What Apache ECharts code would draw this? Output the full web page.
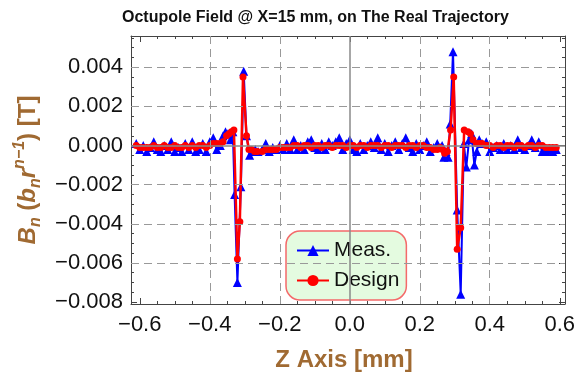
<!DOCTYPE html>
<html>
<head>
<meta charset="utf-8">
<script src="https://cdn.jsdelivr.net/npm/echarts@6/dist/echarts.min.js"></script>
<style>
  html, body { margin: 0; padding: 0; background: #fff; }
  #chart { width: 578px; height: 373px; }
</style>
</head>
<body>
<div id="chart"></div>
<script>
// measured field, z positions [mm]
var zMeas = [
  -0.61, -0.60, -0.59, -0.58, -0.57, -0.56, -0.55, -0.54, -0.53, -0.52, -0.51, -0.50, -0.49,
  -0.48, -0.47, -0.46, -0.45, -0.44, -0.43, -0.42, -0.41, -0.40, -0.39, -0.38, -0.37,
  -0.362, -0.355, -0.348, -0.341, -0.334, -0.329, -0.321, -0.311, -0.303, -0.295, -0.286, -0.278, -0.270, -0.262,
  -0.25, -0.24, -0.23, -0.22, -0.21, -0.20, -0.19, -0.18, -0.17, -0.16, -0.15, -0.14, -0.13,
  -0.12, -0.11, -0.10, -0.09, -0.08, -0.07, -0.06, -0.05, -0.04, -0.03, -0.02, -0.01, 0.00,
  0.01, 0.02, 0.03, 0.04, 0.05, 0.06, 0.07, 0.08, 0.09, 0.10, 0.11, 0.12, 0.13,
  0.14, 0.15, 0.16, 0.17, 0.18, 0.19, 0.20, 0.21, 0.22, 0.23, 0.24, 0.25,
  0.258, 0.264, 0.269, 0.275, 0.281, 0.287, 0.295, 0.307, 0.317, 0.326, 0.333, 0.341, 0.348, 0.356, 0.363, 0.370, 0.378,
  0.39, 0.40, 0.41, 0.42, 0.43, 0.44, 0.45, 0.46, 0.47, 0.48, 0.49, 0.50, 0.51,
  0.52, 0.53, 0.54, 0.55, 0.56, 0.57, 0.58, 0.59
]
var meas = [
  0.0001, -0.0002, 0.0000, -0.0003, -0.0001, 0.0002, -0.0002, -0.0003, 0.0000, -0.0002, 0.0002, -0.0003, -0.0001,
  -0.0003, 0.0001, -0.0002, 0.0002, -0.0003, -0.0002, 0.0001, -0.0003, 0.0002, 0.0004, -0.0002, 0.0000,
  0.0005, 0.0007, 0.0006, 0.0003, 0.0007, -0.0025, -0.0070, -0.0021, 0.0038, 0.0005, -0.0005, -0.0003, -0.0002, -0.0003,
  -0.0002, 0.0001, -0.0003, -0.0001, -0.0002, 0.0000, -0.0002, 0.0001, -0.0002, 0.0003, -0.0002, 0.0000, -0.0002,
  0.0002, 0.0003, -0.0001, -0.0002, 0.0001, -0.0002, 0.0002, 0.0000, 0.0002, 0.0004, -0.0002, 0.0001, 0.0003,
  -0.0002, -0.0003, 0.0001, -0.0002, 0.0000, 0.0002, -0.0001, 0.0004, -0.0002, 0.0001, -0.0003, 0.0000, 0.0002,
  -0.0002, 0.0001, 0.0004, -0.0001, -0.0003, 0.0001, -0.0002, 0.0000, 0.0002, -0.0003, -0.0001, 0.0001,
  -0.0001, 0.0000, -0.0006, -0.0003, -0.0006, 0.0011, 0.0048, -0.0033, -0.0076, 0.0001, -0.0011, 0.0003, 0.0006, -0.0010, -0.0003, 0.0003, 0.0001,
  0.0002, -0.0003, -0.0001, 0.0000, -0.0002, 0.0001, -0.0002, 0.0000, -0.0002, 0.0003, -0.0001, -0.0002, 0.0000,
  0.0003, -0.0001, 0.0002, -0.0003, -0.0003, -0.0002, -0.0003, -0.0002
]

// design field
var zDesign = [
  -0.61, -0.60, -0.59, -0.58, -0.57, -0.56, -0.55, -0.54, -0.53, -0.52, -0.51, -0.50, -0.49,
  -0.48, -0.47, -0.46, -0.45, -0.44, -0.43, -0.42, -0.41, -0.40, -0.39, -0.38, -0.37,
  -0.362, -0.352, -0.345, -0.338, -0.331, -0.321, -0.314, -0.305, -0.295, -0.288, -0.281, -0.272, -0.264,
  -0.25, -0.24, -0.23, -0.22, -0.21, -0.20, -0.19, -0.18, -0.17, -0.16, -0.15, -0.14, -0.13,
  -0.12, -0.11, -0.10, -0.09, -0.08, -0.07, -0.06, -0.05, -0.04, -0.03, -0.02, -0.01, 0.00,
  0.01, 0.02, 0.03, 0.04, 0.05, 0.06, 0.07, 0.08, 0.09, 0.10, 0.11, 0.12, 0.13,
  0.14, 0.15, 0.16, 0.17, 0.18, 0.19, 0.20, 0.21, 0.22, 0.23, 0.24, 0.25,
  0.258, 0.265, 0.271, 0.279, 0.288, 0.297, 0.307, 0.317, 0.327, 0.338, 0.345, 0.352, 0.362, 0.370, 0.378,
  0.39, 0.40, 0.41, 0.42, 0.43, 0.44, 0.45, 0.46, 0.47, 0.48, 0.49, 0.50, 0.51,
  0.52, 0.53, 0.54, 0.55, 0.56, 0.57, 0.58, 0.59
]
var design = [
  0.0000, -0.0001, -0.0001, -0.0001, -0.0001, 0.0000, -0.0001, -0.0001, 0.0000, -0.0001, -0.0001, 0.0000, -0.0001,
  -0.0001, 0.0000, -0.0001, 0.0000, -0.0001, 0.0000, 0.0000, -0.0001, 0.0000, 0.0001, 0.0001, 0.0001,
  0.0002, 0.0005, 0.0006, 0.0007, 0.0008, -0.0058, -0.0039, 0.0035, 0.0005, -0.0002, -0.0002, -0.0003, -0.0003,
  -0.0003, -0.0002, -0.0002, -0.0002, -0.0002, -0.0001, -0.0001, -0.0001, -0.0001, 0.0000, 0.0000, -0.0001, 0.0000,
  0.0000, -0.0001, 0.0000, 0.0000, -0.0001, 0.0000, 0.0000, -0.0001, 0.0000, 0.0000, 0.0000, -0.0001, 0.0000,
  0.0000, -0.0001, 0.0000, 0.0000, -0.0001, 0.0000, 0.0000, 0.0000, -0.0001, 0.0000, 0.0000, -0.0001, 0.0000,
  0.0000, 0.0000, -0.0001, 0.0000, 0.0000, -0.0001, 0.0000, 0.0000, -0.0001, -0.0001, -0.0002, -0.0002,
  -0.0001, -0.0002, -0.0004, -0.0003, 0.0008, 0.0035, -0.0053, -0.0042, 0.0008, 0.0007, 0.0006, 0.0003, 0.0001, 0.0001, 0.0001,
  0.0000, 0.0000, -0.0001, 0.0000, 0.0000, -0.0001, 0.0000, 0.0000, -0.0001, 0.0000, 0.0000, -0.0001, 0.0000,
  0.0000, -0.0001, 0.0000, 0.0000, -0.0001, -0.0001, -0.0001, -0.0001
]

// axis ranges and dashed grid positions
var xRange = [-0.625, 0.615]
var yRange = [-0.0081, 0.0056]
var gridX = [-0.4, -0.2, 0.2, 0.4]
var gridY = [0.004, 0.002, -0.002, -0.004, -0.006]

var brown = '#a06a32'
var font = 'Liberation Sans'

function minus(s) { return s.replace('-', '\u2212') }

var chart = echarts.init(document.getElementById('chart'))

var frameAxis = {
  axisLine: { show: true, onZero: false, lineStyle: { color: '#444', width: 1 } },
  axisTick: { show: true, inside: true, length: 6, lineStyle: { color: '#444' } },
  minorTick: { show: true, splitNumber: 4, length: 3, lineStyle: { color: '#444' } },
  splitLine: { show: false }
}

var gridLines = gridX.map(function (v) { return { xAxis: v } })
  .concat(gridY.map(function (v) { return { yAxis: v } }))

var option = {
  animation: false,
  title: {
    text: 'Octupole Field @ X=15 mm, on The Real Trajectory',
    left: 117,
    top: 5,
    textStyle: { fontFamily: font, fontSize: 16, fontWeight: 'bold', color: '#111' }
  },
  grid: { left: 131, right: 13, top: 36, bottom: 69, containLabel: false, outerBoundsMode: 'none' },
  legend: {
    data: ['Meas.', 'Design'],
    orient: 'vertical',
    left: 286,
    top: 231,
    itemWidth: 32,
    itemHeight: 14,
    itemGap: 9,
    padding: [9, 7, 9, 10],
    backgroundColor: '#e4fbe0',
    borderColor: '#f46a6a',
    borderWidth: 1.5,
    borderRadius: 14,
    textStyle: { fontFamily: font, fontSize: 21, lineHeight: 21, color: '#111' }
  },
  xAxis: [
    Object.assign({}, frameAxis, {
      type: 'value', position: 'bottom',
      min: xRange[0], max: xRange[1], splitNumber: 6,
      axisLabel: {
        showMinLabel: false, showMaxLabel: false, margin: 10,
        fontFamily: font, fontSize: 22, color: '#111',
        formatter: function (v) { return minus(v.toFixed(1)) }
      },
      name: 'Z Axis [mm]',
      nameLocation: 'middle',
      nameGap: 44,
      nameTextStyle: { fontFamily: font, fontSize: 24, fontWeight: 'bold', color: brown, padding: [0, 8, 0, 0] }
    }),
    Object.assign({}, frameAxis, {
      type: 'value', position: 'top',
      min: xRange[0], max: xRange[1], splitNumber: 6,
      axisLabel: { show: false }
    })
  ],
  yAxis: [
    Object.assign({}, frameAxis, {
      type: 'value', position: 'left',
      min: yRange[0], max: yRange[1], splitNumber: 7,
      axisLabel: {
        showMinLabel: false, showMaxLabel: false, margin: 8,
        fontFamily: font, fontSize: 22, color: '#111',
        formatter: function (v) { return minus(v.toFixed(3)) }
      },
      name: '{i|B}{sub|n} {n|(}{i|b}{sub|n}{i|r}{sup|n\u22121}{n|) [T]}',
      nameLocation: 'middle',
      nameRotate: 90,
      nameGap: 87,
      nameTextStyle: {
        fontFamily: font, fontSize: 24, fontWeight: 'bold', color: brown,
        rich: {
          i: { fontFamily: font, fontSize: 24, fontWeight: 'bold', fontStyle: 'italic', color: brown, lineHeight: 32, verticalAlign: 'middle' },
          n: { fontFamily: font, fontSize: 24, fontWeight: 'bold', color: brown, lineHeight: 32, verticalAlign: 'middle' },
          sub: { fontFamily: font, fontSize: 16, fontWeight: 'bold', fontStyle: 'italic', color: brown, verticalAlign: 'bottom' },
          sup: { fontFamily: font, fontSize: 16, fontWeight: 'bold', fontStyle: 'italic', color: brown, verticalAlign: 'top' }
        }
      }
    }),
    Object.assign({}, frameAxis, {
      type: 'value', position: 'right',
      min: yRange[0], max: yRange[1], splitNumber: 7,
      axisLabel: { show: false }
    })
  ],
  series: [
    {
      // dashed grid, under the data
      type: 'line',
      data: [],
      z: 1,
      silent: true,
      markLine: {
        silent: true,
        precision: 6,
        symbol: 'none',
        label: { show: false },
        lineStyle: { color: '#999', type: [8, 5], width: 1 },
        data: gridLines
      }
    },
    {
      name: 'Meas.',
      type: 'line',
      data: zMeas.map(function (z, i) { return [z, meas[i]] }),
      symbol: 'triangle',
      symbolSize: 9,
      showAllSymbol: true,
      lineStyle: { color: '#0000ff', width: 2 },
      itemStyle: { color: '#0000ff' },
      z: 2
    },
    {
      name: 'Design',
      type: 'line',
      data: zDesign.map(function (z, i) { return [z, design[i]] }),
      symbol: 'circle',
      symbolSize: 7,
      showAllSymbol: true,
      lineStyle: { color: '#ff0000', width: 2.5 },
      itemStyle: { color: '#ff0000' },
      z: 3
    },
    {
      // zero axes, drawn over the legend as in the original
      type: 'line',
      data: [],
      z: 10,
      silent: true,
      markLine: {
        silent: true,
        precision: 6,
        symbol: 'none',
        label: { show: false },
        lineStyle: { color: '#8a8a8a', type: 'solid', width: 1.5 },
        data: [{ yAxis: 0 }, { xAxis: 0 }]
      }
    }
  ]
}

chart.setOption(option)
</script>
</body>
</html>
